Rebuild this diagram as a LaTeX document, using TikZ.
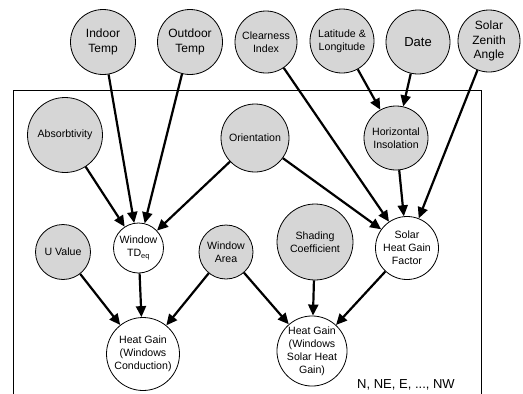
\documentclass[tikz,border=0pt]{standalone}
\usepackage{fontspec}
\setmainfont{Liberation Sans}
\usetikzlibrary{arrows.meta}
\definecolor{nodegray}{RGB}{214,214,214}
\begin{document}
\begin{tikzpicture}[x=1pt,y=-1pt,
  var/.style={circle,draw=black,line width=0.8pt,fill=nodegray,inner sep=0pt,align=center,font=\fontsize{10.6}{13}\selectfont},
  calc/.style={var,fill=white},
  big/.style={font=\fontsize{12}{14.5}\selectfont},
  link/.style={line width=2.2pt,-{Triangle[length=11pt,width=10pt]}}]
\useasboundingbox (0,0) rectangle (523,394);
% plate
\draw[line width=0.8pt] (13,400) -- (13,90) -- (481,90) -- (481,400);
% outer nodes
\node[var,big,minimum size=65pt] (indoor) at (103,42) {Indoor\\Temp};
\node[var,big,minimum size=65pt] (outdoor) at (190,42) {Outdoor\\Temp};
\node[var,minimum size=62pt] (clear) at (266,42) {Clearness\\Index};
\node[var,minimum size=64pt] (latlon) at (342,41) {Latitude \&\\Longitude};
\node[var,font=\fontsize{13}{15}\selectfont,minimum size=64pt] (date) at (418,42) {Date};
\node[var,big,minimum size=62pt] (zenith) at (489,41) {Solar\\Zenith\\Angle};
% inner nodes
\node[var,minimum size=75pt] (absorb) at (65,135) {Absorbtivity};
\node[var,minimum size=68pt] (orient) at (255,138) {Orientation};
\node[var,minimum size=64pt] (horiz) at (396,138) {Horizontal\\Insolation};
\node[calc,minimum size=50pt] (tdeq) at (138.5,248) {Window\\TD\textsubscript{eq}};
\node[var,minimum size=55pt] (uval) at (63,252) {U Value};
\node[var,minimum size=54pt] (area) at (226,252) {Window\\Area};
\node[var,minimum size=76pt] (shade) at (315,242) {Shading\\Coefficient};
\node[calc,minimum size=63pt] (shgf) at (407,248) {Solar\\Heat Gain\\Factor};
\node[calc,minimum size=73pt] (hgc) at (143,354) {Heat Gain\\(Windows\\Conduction)};
\node[calc,minimum size=70pt] (hgs) at (312,351) {Heat Gain\\(Windows\\Solar Heat\\Gain)};
\node[font=\fontsize{13}{15}\selectfont,inner sep=0pt] (dirs) at (406,385) {N, NE, E, ..., NW};
% links
\draw[link] (indoor) -- (tdeq);
\draw[link] (outdoor) -- (tdeq);
\draw[link] (absorb) -- (tdeq);
\draw[link] (orient) -- (tdeq);
\draw[link] (orient) -- (shgf);
\draw[link] (clear) -- (shgf);
\draw[link] (latlon) -- (horiz);
\draw[link] (date) -- (horiz);
\draw[link] (horiz) -- (shgf);
\draw[link] (zenith) -- (shgf);
\draw[link] (uval) -- (hgc);
\draw[link] (tdeq) -- (hgc);
\draw[link] (area) -- (hgc);
\draw[link] (area) -- (hgs);
\draw[link] (shade) -- (hgs);
\draw[link] (shgf) -- (hgs);
\end{tikzpicture}
\end{document}
